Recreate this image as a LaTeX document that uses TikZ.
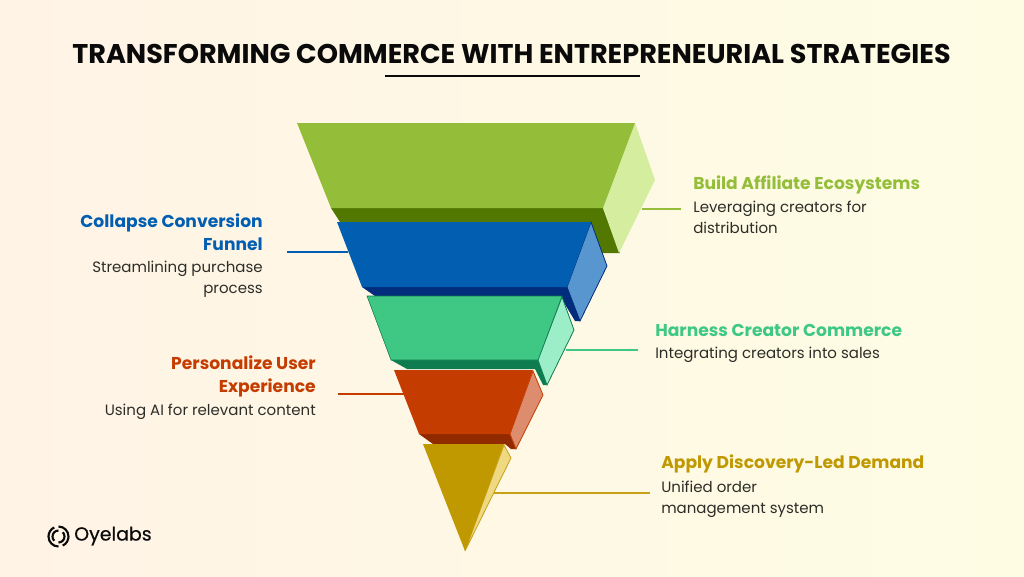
\documentclass[tikz,border=0pt]{standalone}
\usepackage{fontspec}
\setmainfont{Poppins}
\usetikzlibrary{calc}
\definecolor{bgleft}{RGB}{255,243,229}
\definecolor{bgright}{RGB}{254,253,228}
\definecolor{inkblack}{RGB}{10,10,10}
\definecolor{bodytext}{RGB}{45,45,40}
\definecolor{greenface}{RGB}{148,190,58}
\definecolor{greenside}{RGB}{213,237,158}
\definecolor{greendark}{RGB}{82,120,2}
\definecolor{blueface}{RGB}{2,94,176}
\definecolor{blueside}{RGB}{88,150,208}
\definecolor{bluedark}{RGB}{2,44,124}
\definecolor{tealface}{RGB}{62,200,132}
\definecolor{tealside}{RGB}{156,238,200}
\definecolor{tealdark}{RGB}{14,124,78}
\definecolor{redface}{RGB}{196,60,0}
\definecolor{redside}{RGB}{222,140,110}
\definecolor{reddark}{RGB}{146,42,0}
\definecolor{goldface}{RGB}{192,152,0}
\definecolor{goldside}{RGB}{238,216,130}
\definecolor{golddark}{RGB}{200,160,20}
\tikzset{
	x=0.75pt, y=-0.75pt,
	headtext/.style={inner sep=0pt, font=\fontsize{12.85}{17.25}\selectfont\bfseries},
	subtext/.style={inner sep=0pt, text=bodytext, font=\fontsize{11.25}{15.4}\selectfont},
	leadline/.style={line width=1pt},
	logoring/.style={line width=1.6pt, color=inkblack}
}
\begin{document}
\begin{tikzpicture}
		%%%%% BACKGROUND %%%%%
		\useasboundingbox (0, 0) rectangle (1024, 576);
		\shade[left color=bgleft, right color=bgright] (0, 0) rectangle (1024, 576);
		
		%%%%% TITLE %%%%%
		\node[inner sep=0pt, text=inkblack, font=\fontsize{20.3}{24}\selectfont\bfseries] (title) at (511.5, 54) {TRANSFORMING COMMERCE WITH ENTREPRENEURIAL STRATEGIES};
		\coordinate (ruleleft) at (385, 76);
		\coordinate (ruleright) at (640, 76);
		\draw[line width=1pt, color=inkblack] (ruleleft) -- (ruleright);
		
		%%%%% CONNECTORS %%%%%
		\coordinate (greenfoot) at (642, 209);
		\coordinate (bluefoot) at (348, 252);
		\coordinate (tealfoot) at (566, 350);
		\coordinate (redfoot) at (404, 394);
		\coordinate (goldfoot) at (493, 493);
		
		%%%%% FUNNEL %%%%%
		\fill[greendark] (331, 208) -- (603, 208) -- (620, 253) -- (360, 253) -- cycle;
		\fill[greenside] (635, 123) -- (655, 180) -- (619, 253) -- (603, 208) -- cycle;
		\fill[greenface] (297, 123) -- (635, 123) -- (603, 208) -- (331, 208) -- cycle;
		
		\draw[leadline, color=greenface] (greenfoot) -- (681, 209) coordinate (greenend);
		\draw[leadline, color=blueface] (bluefoot) -- (287, 252) coordinate (blueend);
		\draw[leadline, color=tealface] (tealfoot) -- (638, 350) coordinate (tealend);
		\draw[leadline, color=redface] (redfoot) -- (338, 394) coordinate (redend);
		\draw[leadline, color=golddark] (goldfoot) -- (650, 493) coordinate (goldend);
		
		\draw[line width=0.6pt, color=bluedark, fill=blueside] (591, 222) -- (607, 266) -- (580, 321) -- (567, 287) -- cycle;
		\fill[bluedark] (567, 287) -- (580, 321) -- (575, 321) -- (560, 296) -- (375, 296) -- (362, 287) -- cycle;
		\fill[blueface] (337, 222) -- (591, 222) -- (567, 287) -- (362, 287) -- cycle;
		
		\fill[tealdark] (391, 360) -- (538, 360) -- (547, 385) -- (543, 385) -- (535, 369) -- (407, 369) -- cycle;
		\draw[line width=0.6pt, color=tealdark, fill=tealside] (562, 297) -- (574, 330) -- (547, 385) -- (538, 360) -- cycle;
		\draw[line width=0.4pt, color=tealdark, fill=tealface] (367, 296) -- (562, 296) -- (538, 360) -- (391, 360) -- cycle;
		
		\fill[reddark] (419, 434) -- (510, 434) -- (516, 449) -- (511, 449) -- (505, 444) -- (433, 444) -- cycle;
		\draw[line width=0.6pt, color=redface, fill=redside] (533, 371) -- (543, 395) -- (516, 449) -- (510, 434) -- cycle;
		\fill[redface] (394, 370) -- (533, 370) -- (510, 434) -- (419, 434) -- cycle;
		
		\draw[line width=0.6pt, color=golddark, fill=goldside] (504, 445) -- (511, 458) -- (465, 551) -- cycle;
		\fill[goldface] (423, 444) -- (504, 444) -- (465, 551) -- cycle;
		
		%%%%% LABELS %%%%%
		\node[headtext, text=greenface, anchor=west] (greenhead) at (693, 185) {Build Affiliate Ecosystems};
		\node[subtext, anchor=north west, align=left] (greensub) at (693, 201) {Leveraging creators for\\distribution};
		
		\node[headtext, text=blueface, anchor=north east, align=right] (bluehead) at (263, 214) {Collapse Conversion\\Funnel};
		\node[subtext, anchor=north east, align=right] (bluesub) at (263, 261) {Streamlining purchase\\process};
		
		\node[headtext, text=tealface, anchor=west] (tealhead) at (655, 330) {Harness Creator Commerce};
		\node[subtext, anchor=west] (tealsub) at (655, 355) {Integrating creators into sales};
		
		\node[headtext, text=redface, anchor=north east, align=right] (redhead) at (316, 355) {Personalize User\\Experience};
		\node[subtext, anchor=east] (redsub) at (316, 412) {Using AI for relevant content};
		
		\node[headtext, text=goldface, anchor=west] (goldhead) at (661, 464) {Apply Discovery-Led Demand};
		\node[subtext, anchor=north west, align=left] (goldsub) at (661, 481) {Unified order\\management system};
		
		%%%%% LOGO %%%%%
		\draw[logoring] (58.5, 526.5) arc (-90:65:10);
		\draw[logoring] (58.5, 546.5) arc (90:245:10);
		\draw[logoring] (58.5, 530.5) arc (-90:-225:6);
		\draw[logoring] (58.5, 542.5) arc (90:-45:6);
		\node[inner sep=0pt, anchor=west, text=inkblack, font=\fontsize{14.2}{18}\selectfont\addfontfeatures{FakeBold=0.4}] (logotext) at (74, 536) {Oyelabs};
		
\end{tikzpicture}
\end{document}
